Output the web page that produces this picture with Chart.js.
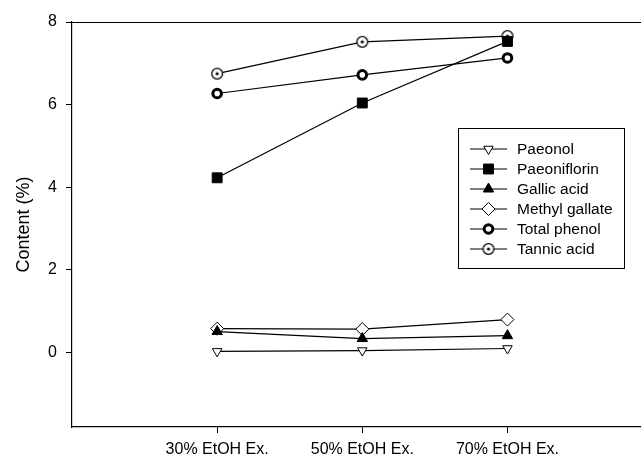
<!DOCTYPE html>
<html>
<head>
<meta charset="utf-8">
<script src="https://cdn.jsdelivr.net/npm/chart.js@4.4.1/dist/chart.umd.min.js"></script>
<style>
  html, body { margin: 0; padding: 0; background: #fff; }
  #myChart { display: block; background: #fff; }
</style>
</head>
<body>
<canvas id="myChart" width="641" height="460"></canvas>
<script>
// values
const categories = ['30% EtOH Ex.', '50% EtOH Ex.', '70% EtOH Ex.'];
const paeonol = [0.03, 0.05, 0.10];
const paeoniflorin = [4.23, 6.04, 7.53];
const gallicAcid = [0.51, 0.34, 0.41];
const methylGallate = [0.58, 0.57, 0.80];
const totalPhenol = [6.27, 6.72, 7.13];
const tannicAcid = [6.75, 7.52, 7.66];
const yTicks = [0, 2, 4, 6, 8];

const FONT = "'Liberation Sans', Arial, sans-serif";

// circle with a dot in the middle for tannic acid
const dotCircle = document.createElement('canvas');
dotCircle.width = 14;
dotCircle.height = 14;
(function () {
  const c = dotCircle.getContext('2d');
  c.fillStyle = '#fff';
  c.strokeStyle = '#000';
  c.lineWidth = 1.3;
  c.beginPath();
  c.arc(7, 7, 5.4, 0, Math.PI * 2);
  c.fill();
  c.stroke();
  c.fillStyle = '#000';
  c.beginPath();
  c.arc(7, 7, 1.6, 0, Math.PI * 2);
  c.fill();
})();

function series(label, values, style) {
  return Object.assign({
    label: label,
    data: values.map((v, i) => ({ x: i + 1, y: v })),
    borderColor: '#000',
    borderWidth: 1.2,
    pointBorderColor: '#000',
    pointBorderWidth: 1,
    tension: 0
  }, style);
}

const datasets = [
  series('Paeonol', paeonol, { pointStyle: 'triangle', pointRotation: 180, pointRadius: 5.5, pointBackgroundColor: '#fff' }),
  series('Paeoniflorin', paeoniflorin, { pointStyle: 'rect', pointRadius: 7, pointBackgroundColor: '#000' }),
  series('Gallic acid', gallicAcid, { pointStyle: 'triangle', pointRadius: 6, pointBackgroundColor: '#000' }),
  series('Methyl gallate', methylGallate, { pointStyle: 'rectRot', pointRadius: 6.5, pointBackgroundColor: '#fff' }),
  series('Total phenol', totalPhenol, { pointStyle: 'circle', pointRadius: 4.3, pointBorderWidth: 3, pointBackgroundColor: '#fff' }),
  series('Tannic acid', tannicAcid, { pointStyle: dotCircle, pointRadius: 6 })
];

// top frame line + legend box inside the plot
const frameAndLegend = {
  id: 'frameAndLegend',
  afterDraw(chart) {
    const ctx = chart.ctx;
    const a = chart.chartArea;
    ctx.save();
    ctx.strokeStyle = '#000';
    ctx.lineWidth = 1.2;
    ctx.beginPath();
    ctx.moveTo(a.left, a.top + 0.5);
    ctx.lineTo(a.right, a.top + 0.5);
    ctx.stroke();

    // legend box
    ctx.lineWidth = 1;
    ctx.strokeRect(458.5, 128.5, 166, 140);
    ctx.font = '15.5px ' + FONT;
    ctx.textBaseline = 'middle';
    ctx.textAlign = 'left';
    chart.data.datasets.forEach((ds, i) => {
      const y = 149 + i * 20;
      ctx.strokeStyle = '#000';
      ctx.lineWidth = 1.2;
      ctx.beginPath();
      ctx.moveTo(470, y);
      ctx.lineTo(507, y);
      ctx.stroke();
      ctx.fillStyle = ds.pointBackgroundColor || '#000';
      ctx.lineWidth = ds.pointBorderWidth;
      Chart.helpers.drawPoint(ctx, {
        pointStyle: ds.pointStyle,
        rotation: ds.pointRotation || 0,
        radius: ds.pointRadius,
        borderWidth: ds.pointBorderWidth
      }, 488.5, y);
      ctx.fillStyle = '#000';
      ctx.fillText(ds.label, 517, y + 1);
    });
    ctx.restore();
  }
};

Chart.defaults.color = '#000';
Chart.defaults.font.family = FONT;

new Chart(document.getElementById('myChart'), {
  type: 'line',
  data: { datasets: datasets },
  options: {
    responsive: false,
    animation: false,
    layout: { autoPadding: false, padding: { top: 22, right: 0, bottom: 0, left: 0 } },
    plugins: {
      legend: { display: false },
      tooltip: { enabled: false }
    },
    scales: {
      x: {
        type: 'linear',
        min: 0,
        max: 3.92,
        afterBuildTicks: s => { s.ticks = [1, 2, 3].map(v => ({ value: v })); },
        afterFit: s => { s.height = 33; s.paddingLeft = 0; s.paddingRight = 0; },
        ticks: {
          font: { size: 16 },
          padding: 7,
          maxRotation: 0,
          callback: v => categories[v - 1]
        },
        grid: { drawOnChartArea: false, tickLength: 6, color: '#000', lineWidth: 1 },
        border: { color: '#000', width: 1.2 }
      },
      y: {
        min: -1.8,
        max: 8,
        afterBuildTicks: s => { s.ticks = yTicks.map(v => ({ value: v })); },
        afterFit: s => { s.width = 72; s.paddingTop = 0; s.paddingBottom = 0; },
        ticks: { font: { size: 16 }, padding: 9 },
        title: {
          display: true,
          text: 'Content (%)',
          font: { size: 18 },
          padding: { top: 13, bottom: 0 }
        },
        grid: { drawOnChartArea: false, tickLength: 6, color: '#000', lineWidth: 1 },
        border: { color: '#000', width: 1.2 }
      }
    }
  },
  plugins: [frameAndLegend]
});
</script>
</body>
</html>
